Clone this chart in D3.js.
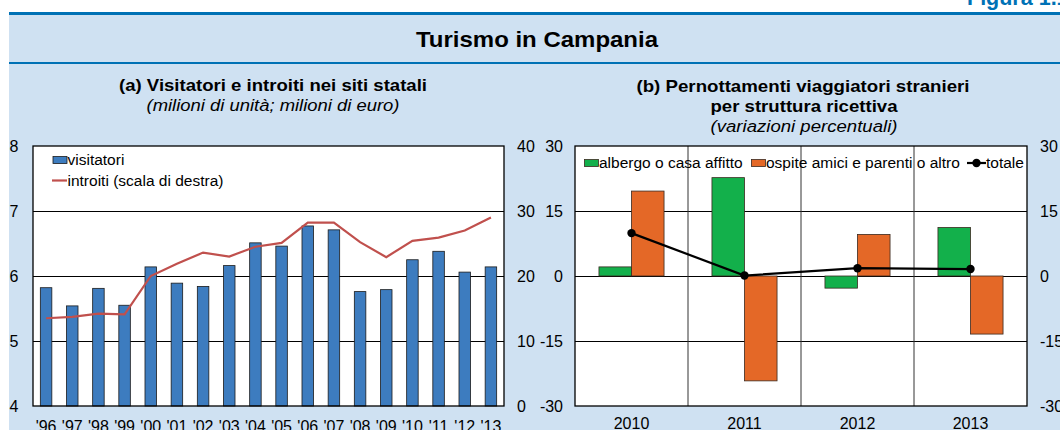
<!doctype html>
<html lang="it">
<head>
  <meta charset="UTF-8">
  <title>Turismo in Campania</title>
  <script src="https://d3js.org/d3.v7.min.js"></script>
  <style>
    body { margin: 0; background: #fff; }
    svg { display: block; font-family: "Liberation Sans", Arial, sans-serif; }
  </style>
</head>
<body>
  <div id="chart"></div>
  <script type="text/javascript">
    // pannello (a): visitatori (milioni) e introiti (milioni di euro)
    var anni = ["'96","'97","'98","'99","'00","'01","'02","'03","'04","'05","'06","'07","'08","'09","'10","'11","'12","'13"];
    var visitatori = [5.82,5.54,5.81,5.55,6.14,5.89,5.84,6.16,6.51,6.46,6.77,6.71,5.76,5.79,6.25,6.38,6.06,6.14];
    var introiti = [13.5,13.7,14.2,14.1,20.0,21.9,23.6,23.0,24.5,25.1,28.2,28.2,25.2,22.9,25.4,25.9,27.0,29.0];
    var ticksSx = [4,5,6,7,8];
    var ticksDx = [0,10,20,30,40];

    // pannello (b): variazioni percentuali dei pernottamenti
    var anniB = ["2010","2011","2012","2013"];
    var albergo = [2.1,22.7,-2.8,11.2];
    var ospite = [19.6,-24.2,9.6,-13.4];
    var totale = [9.9,0.1,1.8,1.6];
    var ticksB = [-30,-15,0,15,30];

    var W = 1060, H = 430;
    var fs = "15.5px";   // legende
    var fsTick = "16px"; // etichette assi
    var fmt = function(d) { return String(d); }; // trattino semplice per i negativi

    var svg = d3.select("#chart").append("svg")
      .attr("width", W)
      .attr("height", H);

    // sfondo e filetti
    svg.append("rect").attr("x", 9).attr("y", 15).attr("width", W - 9).attr("height", H - 15).attr("fill", "#cfe1f2");
    svg.append("rect").attr("x", 9).attr("y", 12).attr("width", W - 9).attr("height", 3).attr("fill", "#0071b5");
    svg.append("rect").attr("x", 9).attr("y", 62).attr("width", W - 9).attr("height", 2).attr("fill", "#0071b5");

    svg.append("text").attr("x", 967).attr("y", 4.5)
      .attr("fill", "#0071b5").attr("font-weight", "bold").attr("font-size", "21.5px")
      .text("Figura 1.1");

    svg.append("text").attr("x", 537).attr("y", 47)
      .attr("text-anchor", "middle").attr("font-weight", "bold").attr("font-size", "21.5px")
      .attr("textLength", 242).attr("lengthAdjust", "spacingAndGlyphs")
      .text("Turismo in Campania");

    // titoli dei pannelli (il riferimento ha il testo un po' allargato)
    function titolo(x, y, txt, bold, largh) {
      svg.append("text").attr("x", x).attr("y", y)
        .attr("text-anchor", "middle").attr("font-size", "16.3px")
        .attr("font-weight", bold ? "bold" : "normal")
        .attr("font-style", bold ? "normal" : "italic")
        .attr("textLength", largh).attr("lengthAdjust", "spacingAndGlyphs")
        .text(txt);
    }
    titolo(273, 90.5, "(a) Visitatori e introiti nei siti statali", true, 308);
    titolo(273, 110.5, "(milioni di unità; milioni di euro)", false, 253);
    titolo(803, 91.5, "(b) Pernottamenti viaggiatori stranieri", true, 333);
    titolo(804, 111.5, "per struttura ricettiva", true, 187);
    titolo(804, 131.5, "(variazioni percentuali)", false, 187);

    function stileAsse(g) {
      g.select(".domain").remove();
      g.selectAll("text").attr("font-size", fsTick).attr("fill", "#000")
        .attr("font-family", "Liberation Sans, Arial, sans-serif");
    }

    // ---------- pannello (a) ----------
    var yTop = 146, yBot = 406;
    var xA = d3.scaleBand().domain(anni).range([33, 504]);
    var ySx = d3.scaleLinear().domain([4, 8]).range([yBot, yTop]);
    var yDx = d3.scaleLinear().domain([0, 40]).range([yBot, yTop]);

    svg.append("rect").attr("x", 33).attr("y", yTop).attr("width", 471).attr("height", yBot - yTop).attr("fill", "#fff");

    // griglia
    svg.append("g").attr("transform", "translate(33,0)")
      .call(d3.axisLeft(ySx).tickValues([5, 6, 7]).tickSize(-471).tickFormat(""))
      .call(function(g) { g.select(".domain").remove(); g.selectAll("line").attr("stroke", "#000").attr("stroke-width", 1); });

    var bw = xA.bandwidth() * 0.44;
    svg.append("g").selectAll("rect")
      .data(visitatori)
      .enter()
      .append("rect")
        .attr("x", function(d, i) { return xA(anni[i]) + (xA.bandwidth() - bw) / 2; })
        .attr("y", function(d) { return ySx(d); })
        .attr("width", bw)
        .attr("height", function(d) { return yBot - ySx(d); })
        .attr("fill", "#3d7cbf")
        .attr("stroke", "#1b1b1b")
        .attr("stroke-width", 0.8);

    var lineaA = d3.line()
      .x(function(d, i) { return xA(anni[i]) + xA.bandwidth() / 2; })
      .y(function(d) { return yDx(d); });
    svg.append("path").datum(introiti)
      .attr("d", lineaA)
      .attr("fill", "none").attr("stroke", "#c0504d").attr("stroke-width", 2.2);

    svg.append("rect").attr("x", 33).attr("y", yTop).attr("width", 471).attr("height", yBot - yTop)
      .attr("fill", "none").attr("stroke", "#000").attr("stroke-width", 1.3);

    svg.append("g").attr("transform", "translate(18.5,0)")
      .call(d3.axisLeft(ySx).tickValues(ticksSx).tickSize(0).tickPadding(0).tickFormat(fmt))
      .call(stileAsse);
    svg.append("g").attr("transform", "translate(517,0)")
      .call(d3.axisRight(yDx).tickValues(ticksDx).tickSize(0).tickPadding(0).tickFormat(fmt))
      .call(stileAsse);
    svg.append("g").attr("transform", "translate(0," + yBot + ")")
      .call(d3.axisBottom(xA).tickSize(0).tickPadding(15))
      .call(stileAsse);

    // legenda (a)
    svg.append("rect").attr("x", 53).attr("y", 156.5).attr("width", 14).attr("height", 7)
      .attr("fill", "#3d7cbf").attr("stroke", "#1b1b1b").attr("stroke-width", 0.8);
    svg.append("text").attr("x", 67.5).attr("y", 165).attr("font-size", fs).text("visitatori");
    svg.append("line").attr("x1", 52).attr("x2", 67).attr("y1", 180.5).attr("y2", 180.5)
      .attr("stroke", "#c0504d").attr("stroke-width", 2.2);
    svg.append("text").attr("x", 67.5).attr("y", 186).attr("font-size", fs).text("introiti (scala di destra)");

    // ---------- pannello (b) ----------
    var xB = d3.scaleBand().domain(anniB).range([575, 1027]);
    var yB = d3.scaleLinear().domain([-30, 30]).range([yBot, yTop]);

    svg.append("rect").attr("x", 575).attr("y", yTop).attr("width", 452).attr("height", yBot - yTop).attr("fill", "#fff");

    svg.append("g").attr("transform", "translate(575,0)")
      .call(d3.axisLeft(yB).tickValues([-15, 0, 15]).tickSize(-452).tickFormat(""))
      .call(function(g) { g.select(".domain").remove(); g.selectAll("line").attr("stroke", "#000").attr("stroke-width", 1); });
    svg.append("g").selectAll("line")
      .data(anniB.slice(1))
      .enter()
      .append("line")
        .attr("x1", function(d) { return xB(d); })
        .attr("x2", function(d) { return xB(d); })
        .attr("y1", yTop).attr("y2", yBot)
        .attr("stroke", "#333").attr("stroke-width", 1);

    var bwB = xB.bandwidth() * 0.288;
    function barreB(dati, colore, off) {
      svg.append("g").selectAll("rect")
        .data(dati)
        .enter()
        .append("rect")
          .attr("x", function(d, i) { return xB(anniB[i]) + xB.bandwidth() / 2 + off * bwB; })
          .attr("y", function(d) { return yB(Math.max(d, 0)); })
          .attr("width", bwB)
          .attr("height", function(d) { return Math.abs(yB(d) - yB(0)); })
          .attr("fill", colore)
          .attr("stroke", "#3a2a20")
          .attr("stroke-width", 0.8);
    }
    barreB(albergo, "#13b04b", -1);
    barreB(ospite, "#e46827", 0);

    var lineaB = d3.line()
      .x(function(d, i) { return xB(anniB[i]) + xB.bandwidth() / 2; })
      .y(function(d) { return yB(d); });
    svg.append("path").datum(totale)
      .attr("d", lineaB)
      .attr("fill", "none").attr("stroke", "#000").attr("stroke-width", 2.2);
    svg.append("g").selectAll("circle")
      .data(totale)
      .enter()
      .append("circle")
        .attr("cx", function(d, i) { return xB(anniB[i]) + xB.bandwidth() / 2; })
        .attr("cy", function(d) { return yB(d); })
        .attr("r", 4.2)
        .attr("fill", "#000");

    svg.append("rect").attr("x", 575).attr("y", yTop).attr("width", 452).attr("height", yBot - yTop)
      .attr("fill", "none").attr("stroke", "#000").attr("stroke-width", 1.3);

    svg.append("g").attr("transform", "translate(563,0)")
      .call(d3.axisLeft(yB).tickValues(ticksB).tickSize(0).tickPadding(0).tickFormat(fmt))
      .call(stileAsse);
    svg.append("g").attr("transform", "translate(1040,0)")
      .call(d3.axisRight(yB).tickValues(ticksB).tickSize(0).tickPadding(0).tickFormat(fmt))
      .call(stileAsse);
    svg.append("g").attr("transform", "translate(0," + yBot + ")")
      .call(d3.axisBottom(xB).tickSize(0).tickPadding(12))
      .call(stileAsse);

    // legenda (b)
    svg.append("rect").attr("x", 584.5).attr("y", 159.5).attr("width", 14).attr("height", 7)
      .attr("fill", "#13b04b").attr("stroke", "#3a2a20").attr("stroke-width", 0.8);
    svg.append("text").attr("x", 599).attr("y", 167.5).attr("font-size", fs).text("albergo o casa affitto");
    svg.append("rect").attr("x", 751.5).attr("y", 159.5).attr("width", 14).attr("height", 7)
      .attr("fill", "#e46827").attr("stroke", "#3a2a20").attr("stroke-width", 0.8);
    svg.append("text").attr("x", 766).attr("y", 167.5).attr("font-size", fs).text("ospite amici e parenti o altro");
    svg.append("line").attr("x1", 967).attr("x2", 986).attr("y1", 163).attr("y2", 163)
      .attr("stroke", "#000").attr("stroke-width", 2.2);
    svg.append("circle").attr("cx", 976.5).attr("cy", 163).attr("r", 4.2).attr("fill", "#000");
    svg.append("text").attr("x", 986).attr("y", 167.5).attr("font-size", fs).text("totale");
  </script>
</body>
</html>
